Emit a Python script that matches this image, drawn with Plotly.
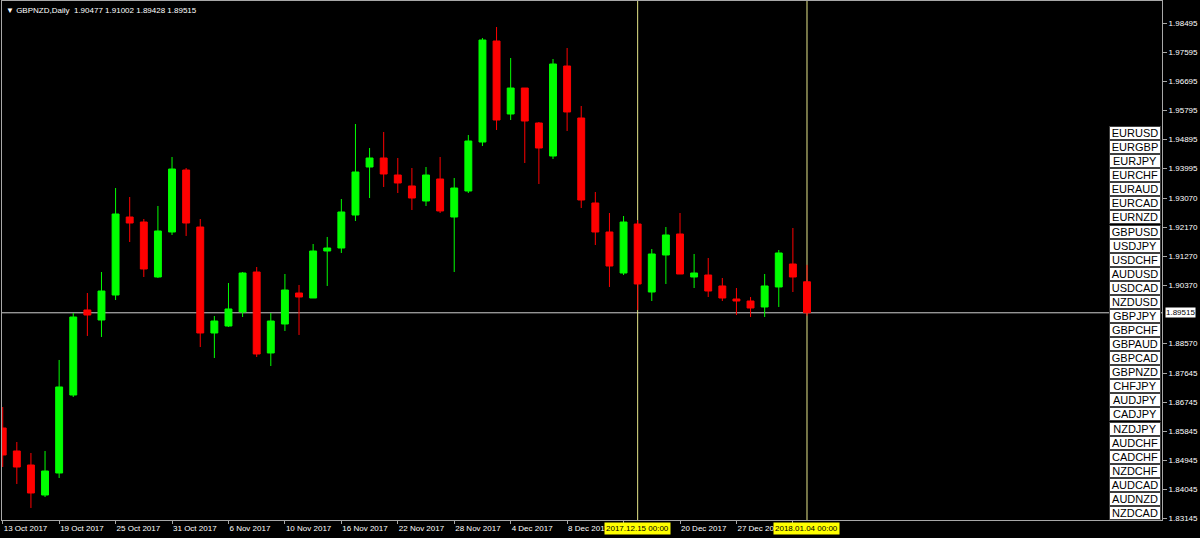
import plotly.graph_objects as go
from datetime import datetime

symbol = "GBPNZD"
timeframe = "Daily"

dates = [
    "2017.10.13", "2017.10.16", "2017.10.17", "2017.10.18", "2017.10.19", "2017.10.20",
    "2017.10.23", "2017.10.24", "2017.10.25", "2017.10.26", "2017.10.27", "2017.10.30",
    "2017.10.31", "2017.11.01", "2017.11.02", "2017.11.03", "2017.11.06", "2017.11.07",
    "2017.11.08", "2017.11.09", "2017.11.10", "2017.11.13", "2017.11.14", "2017.11.15",
    "2017.11.16", "2017.11.17", "2017.11.20", "2017.11.21", "2017.11.22", "2017.11.23",
    "2017.11.24", "2017.11.27", "2017.11.28", "2017.11.29", "2017.11.30", "2017.12.01",
    "2017.12.04", "2017.12.05", "2017.12.06", "2017.12.07", "2017.12.08", "2017.12.11",
    "2017.12.12", "2017.12.13", "2017.12.14", "2017.12.15", "2017.12.18", "2017.12.19",
    "2017.12.20", "2017.12.21", "2017.12.22", "2017.12.26", "2017.12.27", "2017.12.28",
    "2017.12.29", "2018.01.02", "2018.01.03", "2018.01.04",
]

opens = [
    1.85939, 1.85225, 1.84790, 1.83859, 1.84542, 1.86963, 1.89602, 1.89291, 1.90067, 1.92488,
    1.92333, 1.90626, 1.92023, 1.93947, 1.92178, 1.88888, 1.89105, 1.89540, 1.90781, 1.88267,
    1.89167, 1.90129, 1.89974, 1.91433, 1.91526, 1.92550, 1.94040, 1.94320, 1.93792, 1.93451,
    1.92985, 1.93668, 1.92488, 1.93295, 1.94816, 1.97951, 1.95685, 1.96492, 1.95406, 1.94382,
    1.97175, 1.95561, 1.92923, 1.92023, 1.90750, 1.92271, 1.90160, 1.91309, 1.91961, 1.90626,
    1.90688, 1.90347, 1.89943, 1.89881, 1.89695, 1.90316, 1.91029, 1.90477,
]
highs = [
    1.86591, 1.85504, 1.85163, 1.85225, 1.88050, 1.89508, 1.90129, 1.90781, 1.93388, 1.93109,
    1.92426, 1.92830, 1.94351, 1.94009, 1.92426, 1.89415, 1.90440, 1.90781, 1.90936, 1.89508,
    1.90719, 1.90378, 1.91650, 1.91868, 1.93047, 1.95375, 1.94630, 1.95127, 1.94320, 1.94009,
    1.94040, 1.94351, 1.93699, 1.95034, 1.98044, 1.98386, 1.97424, 1.96492, 1.95437, 1.97393,
    1.97734, 1.95934, 1.93264, 1.92612, 1.92519, 1.92395, 1.91495, 1.92178, 1.92612, 1.91340,
    1.91216, 1.90595, 1.90284, 1.90005, 1.90719, 1.91464, 1.92147, 1.91002,
]
lows = [
    1.84728, 1.84201, 1.83456, 1.83797, 1.84387, 1.86901, 1.88795, 1.88764, 1.89912, 1.91712,
    1.90626, 1.90595, 1.91930, 1.91899, 1.88453, 1.88112, 1.89074, 1.89384, 1.88143, 1.87863,
    1.88950, 1.88826, 1.89974, 1.90347, 1.91371, 1.92364, 1.93078, 1.93420, 1.93233, 1.92706,
    1.92830, 1.92612, 1.90781, 1.93233, 1.94692, 1.95189, 1.95499, 1.94164, 1.93513, 1.94289,
    1.95158, 1.92768, 1.91619, 1.90316, 1.90688, 1.89602, 1.89881, 1.90409, 1.90719, 1.90284,
    1.90005, 1.89881, 1.89446, 1.89384, 1.89384, 1.89695, 1.90160, 1.89428,
]
closes = [
    1.85101, 1.84728, 1.83921, 1.84604, 1.87212, 1.89384, 1.89446, 1.90191, 1.92581, 1.92302,
    1.90874, 1.92054, 1.93978, 1.92302, 1.88888, 1.89260, 1.89633, 1.90750, 1.88236, 1.89260,
    1.90222, 1.90005, 1.91433, 1.91526, 1.92644, 1.93885, 1.94320, 1.93823, 1.93544, 1.93078,
    1.93792, 1.92675, 1.93388, 1.94847, 1.97982, 1.95499, 1.96492, 1.95468, 1.94630, 1.97237,
    1.95748, 1.93016, 1.92023, 1.90967, 1.92333, 1.90409, 1.91340, 1.91930, 1.90719, 1.90750,
    1.90191, 1.89974, 1.89881, 1.89664, 1.90347, 1.91371, 1.90626, 1.89515,
]

price_ticks = [1.98495, 1.97595, 1.96695, 1.95795, 1.94895, 1.93995, 1.93070, 1.92170, 1.91270,
               1.90370, 1.88570, 1.87645, 1.86745, 1.85845, 1.84945, 1.84045, 1.83145]
price_range = [1.83083, 1.99193]
tick_every = 4
cursor_dates = ["2017.12.15", "2018.01.04"]

symbols = ["EURUSD", "EURGBP", "EURJPY", "EURCHF", "EURAUD", "EURCAD", "EURNZD", "GBPUSD",
           "USDJPY", "USDCHF", "AUDUSD", "USDCAD", "NZDUSD", "GBPJPY", "GBPCHF", "GBPAUD",
           "GBPCAD", "GBPNZD", "CHFJPY", "AUDJPY", "CADJPY", "NZDJPY", "AUDCHF", "CADCHF",
           "NZDCHF", "AUDCAD", "AUDNZD", "NZDCAD"]

# ---------------------------------------------------------------------------
W, H = 1200, 538
ML, MR, MT, MB = 2, 38, 1, 18
plot_h = H - MT - MB

FONT = "Liberation Sans, Arial, sans-serif"
GREEN = "#00ff00"
RED = "#ff0000"
AXIS = "#a8a8a8"

xs = list(range(len(dates)))
parsed = [datetime.strptime(d, "%Y.%m.%d") for d in dates]
cursor_idx = [dates.index(cd) for cd in cursor_dates]
tickvals = xs[::tick_every]
# labels fully hidden under the cursor date boxes are left blank
ticktext = ["" if any(abs(i - c) <= 1 for c in cursor_idx)
            else f"{parsed[i].day} {parsed[i].strftime('%b %Y')}" for i in tickvals]

fig = go.Figure()
fig.add_trace(go.Candlestick(
    x=xs, open=opens, high=highs, low=lows, close=closes,
    increasing=dict(line=dict(color=GREEN, width=1), fillcolor=GREEN),
    decreasing=dict(line=dict(color=RED, width=1), fillcolor=RED),
    whiskerwidth=0, showlegend=False, hoverinfo="skip",
))

shapes = [dict(type="line", xref="paper", x0=0, x1=1, yref="y",
               y0=closes[-1], y1=closes[-1], layer="below",
               line=dict(color="#cfcfcf", width=1))]
annotations = []
for idx in cursor_idx:
    shapes.append(dict(type="line", xref="x", x0=idx, x1=idx, yref="paper", y0=0, y1=1,
                       layer="below", line=dict(color="#e6e68a", width=1)))
    annotations.append(dict(
        x=idx, xref="x", y=0, yref="paper", yanchor="top", xanchor="center", yshift=-2,
        text=parsed[idx].strftime("%Y.%m.%d") + " 00:00",
        showarrow=False, bgcolor="#ffff00", borderpad=1,
        font=dict(family=FONT, size=8, color="#000000"),
    ))

# title / OHLC header
annotations.append(dict(
    x=0, xref="paper", y=1, yref="paper", xanchor="left", yanchor="top", xshift=2, yshift=-3,
    text=f"▼ {symbol},{timeframe}  {opens[-1]:.5f} {highs[-1]:.5f} {lows[-1]:.5f} {closes[-1]:.5f}",
    showarrow=False, font=dict(family=FONT, size=8, color="#ffffff"),
))

# current price label
annotations.append(dict(
    x=1, xref="paper", y=closes[-1], yref="y", xanchor="left", yanchor="middle", xshift=3,
    text=f"{closes[-1]:.5f}", showarrow=False, bgcolor="#ffffff", borderpad=0,
    font=dict(family=FONT, size=8, color="#000000"),
))

# symbol buttons
box_top_px = 126
box_step = 14.07
for k, s in enumerate(symbols):
    cy = box_top_px + box_step * k + box_step / 2
    annotations.append(dict(
        x=1, xref="paper", y=1 - (cy - MT) / plot_h, yref="paper",
        xanchor="right", yanchor="middle", xshift=-1,
        text=s, showarrow=False, width=50, height=12, borderpad=0, borderwidth=1,
        bordercolor="#404040", bgcolor="#ffffff", align="center", valign="middle",
        font=dict(family=FONT, size=11, color="#000000"),
    ))

fig.update_layout(
    width=W, height=H,
    margin=dict(l=ML, r=MR, t=MT, b=MB, autoexpand=False),
    paper_bgcolor="#000000", plot_bgcolor="#000000",
    showlegend=False,
    shapes=shapes, annotations=annotations,
    xaxis=dict(
        range=[-0.05, 82.16], tickvals=tickvals, ticktext=ticktext,
        ticks="outside", ticklen=3, tickcolor=AXIS, ticklabelposition="outside right",
        tickfont=dict(family=FONT, size=8, color="#ffffff"),
        showline=True, mirror=True, linecolor=AXIS, linewidth=1,
        showgrid=False, zeroline=False, rangeslider=dict(visible=False), fixedrange=True,
    ),
    yaxis=dict(
        side="right", range=price_range, tickvals=price_ticks,
        ticktext=[f"{v:.5f}" for v in price_ticks],
        ticks="outside", ticklen=4, tickcolor=AXIS,
        tickfont=dict(family=FONT, size=8, color="#ffffff"),
        showline=True, mirror=True, linecolor=AXIS, linewidth=1,
        showgrid=False, zeroline=False, fixedrange=True,
    ),
)

fig.write_html(
    "out.html",
    config={"displayModeBar": False},
    post_script="document.body.style.margin='0';document.body.style.background='#000';",
)
